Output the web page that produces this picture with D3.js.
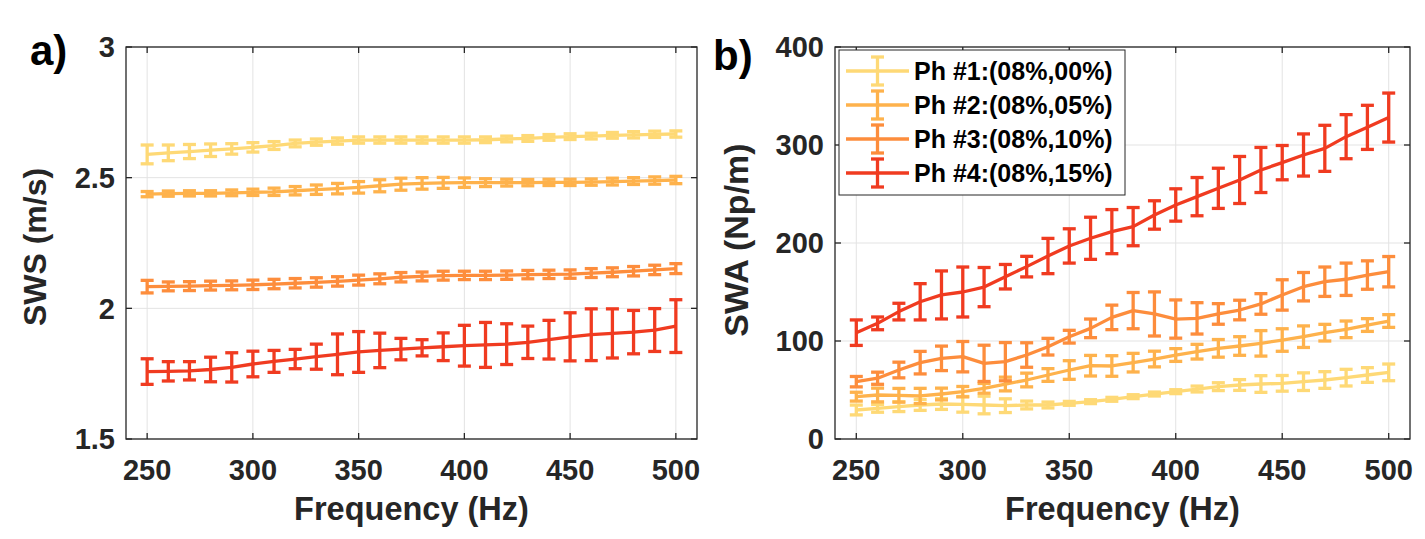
<!DOCTYPE html>
<html>
<head>
<meta charset="utf-8">
<script src="https://cdn.jsdelivr.net/npm/d3@7"></script>
<style>
  body { margin: 0; background: #fff; }
  svg text { font-family: "Liberation Sans", Arial, sans-serif; }
</style>
</head>
<body>
<svg id="chart" width="1425" height="539"></svg>
<script>
// frequencies (Hz)
const freq = [250, 260, 270, 280, 290, 300, 310, 320, 330, 340, 350, 360, 370,
              380, 390, 400, 410, 420, 430, 440, 450, 460, 470, 480, 490, 500];

const seriesNames = ["Ph #1:(08%,00%)", "Ph #2:(08%,05%)", "Ph #3:(08%,10%)", "Ph #4:(08%,15%)"];
const seriesColors = ["#fed976", "#feb24c", "#fd8d3c", "#f03b20"];

// SWS (m/s) mean and error
const sws1 = [2.589, 2.595, 2.600, 2.605, 2.610, 2.616, 2.623, 2.631, 2.636, 2.640, 2.644, 2.644, 2.644,
              2.644, 2.644, 2.644, 2.645, 2.648, 2.650, 2.654, 2.657, 2.659, 2.662, 2.664, 2.666, 2.667];
const sws1Err = [0.036, 0.030, 0.027, 0.024, 0.020, 0.018, 0.015, 0.013, 0.012, 0.012, 0.012, 0.012, 0.012,
                 0.012, 0.012, 0.012, 0.011, 0.011, 0.011, 0.011, 0.011, 0.011, 0.011, 0.012, 0.012, 0.012];
const sws2 = [2.437, 2.439, 2.440, 2.440, 2.442, 2.444, 2.446, 2.450, 2.454, 2.458, 2.463, 2.469, 2.475,
              2.478, 2.480, 2.481, 2.481, 2.481, 2.481, 2.482, 2.482, 2.483, 2.485, 2.487, 2.489, 2.491];
const sws2Err = [0.010, 0.010, 0.010, 0.010, 0.011, 0.012, 0.014, 0.016, 0.018, 0.020, 0.022, 0.023, 0.023,
                 0.022, 0.021, 0.018, 0.015, 0.013, 0.012, 0.012, 0.012, 0.012, 0.013, 0.013, 0.014, 0.014];
const sws3 = [2.083, 2.084, 2.085, 2.087, 2.088, 2.090, 2.093, 2.096, 2.099, 2.103, 2.108, 2.113, 2.119,
              2.122, 2.125, 2.126, 2.126, 2.127, 2.129, 2.130, 2.131, 2.135, 2.138, 2.142, 2.147, 2.152];
const sws3Err = [0.024, 0.017, 0.017, 0.017, 0.017, 0.018, 0.018, 0.018, 0.018, 0.018, 0.019, 0.019, 0.018,
                 0.017, 0.017, 0.016, 0.016, 0.016, 0.016, 0.016, 0.016, 0.017, 0.017, 0.018, 0.018, 0.019];
const sws4 = [1.758, 1.759, 1.761, 1.766, 1.774, 1.787, 1.797, 1.806, 1.815, 1.824, 1.833, 1.839, 1.844,
              1.849, 1.853, 1.857, 1.860, 1.863, 1.870, 1.880, 1.891, 1.899, 1.904, 1.909, 1.917, 1.932];
const sws4Err = [0.049, 0.037, 0.035, 0.047, 0.056, 0.049, 0.042, 0.037, 0.048, 0.078, 0.078, 0.066, 0.041,
                 0.031, 0.053, 0.078, 0.086, 0.078, 0.062, 0.074, 0.092, 0.099, 0.094, 0.083, 0.082, 0.101];

// SWA (Np/m) mean and error
const swa1 = [29.6, 31.3, 33.0, 34.7, 35.7, 35.4, 34.7, 34.0, 34.7, 34.7, 36.4, 38.1, 40.5,
              43.2, 45.9, 48.3, 51.0, 53.4, 55.1, 56.1, 56.8, 58.5, 60.2, 62.6, 65.3, 68.0];
const swa1Err = [5, 4, 5, 5.5, 5.5, 8, 9, 7, 4, 3, 2, 2, 2,
                 2, 2, 2, 3, 4, 5.5, 8.5, 8, 9, 8.5, 8.5, 7.5, 8.5];
const swa2 = [43.2, 44.9, 44.6, 43.9, 45.9, 48.3, 51.7, 56.1, 60.2, 65.3, 70.4, 74.8, 74.5,
              77.9, 81.6, 85.7, 89.1, 92.5, 94.9, 97.6, 101.0, 104.4, 108.5, 111.9, 116.3, 120.4];
const swa2Err = [4.5, 7, 7, 7.8, 6, 5.3, 5, 7, 7, 6.5, 9.5, 10.5, 10.5,
                 9.5, 8, 6.5, 7.5, 9, 9.5, 13, 11.5, 11, 8.5, 8.5, 6.5, 6.5];
const swa3 = [58.5, 62.0, 70.4, 77.9, 82.3, 84.0, 77.2, 78.9, 85.7, 94.2, 104.4, 112.9, 124.1,
              131.0, 127.6, 122.4, 123.1, 127.6, 131.6, 137.8, 147.0, 155.4, 160.5, 163.0, 167.3, 170.7];
const swa3Err = [5.3, 6.2, 8, 11.5, 12.5, 15.5, 18.5, 19.5, 12.5, 8.5, 6.5, 9.5, 12.5,
                 18.5, 22.5, 19.5, 16, 10.5, 10, 10.5, 15.5, 14.5, 15, 16.5, 14.5, 15.5];
const swa4 = [108.5, 118.0, 130.0, 140.0, 147.0, 150.0, 155.0, 165.6, 175.9, 186.7, 197.0, 204.8, 211.6,
              216.7, 228.6, 238.8, 247.3, 255.8, 264.3, 274.5, 282.0, 289.8, 296.6, 308.5, 318.0, 328.0];
const swa4Err = [13, 6.5, 8.5, 18.5, 24.5, 25.5, 20, 12.5, 10.5, 18, 17.5, 21.5, 22.5,
                 19.5, 14.5, 16.5, 19.5, 20.5, 24, 23, 17.5, 21.5, 23.5, 22.5, 22.5, 25];

const xTicks = [250, 300, 350, 400, 450, 500];
const swsTicks = [1.5, 2, 2.5, 3];
const swaTicks = [0, 100, 200, 300, 400];

const svg = d3.select("#chart");
const axisColor = "#262626";

function drawPanel(cfg) {
    const x = d3.scaleLinear().domain([240, 510]).range([cfg.left, cfg.right]);
    const y = d3.scaleLinear().domain(cfg.yDomain).range([cfg.bottom, cfg.top]);
    const g = svg.append("g");

    // grid
    g.selectAll(".gx").data(xTicks).enter().append("line")
        .attr("x1", d => x(d)).attr("x2", d => x(d))
        .attr("y1", cfg.top).attr("y2", cfg.bottom)
        .attr("stroke", "#e3e3e3").attr("stroke-width", 1);
    g.selectAll(".gy").data(cfg.yTicks).enter().append("line")
        .attr("x1", cfg.left).attr("x2", cfg.right)
        .attr("y1", d => y(d)).attr("y2", d => y(d))
        .attr("stroke", "#e3e3e3").attr("stroke-width", 1);

    // series
    cfg.series.forEach((s, k) => {
        const pts = freq.map((f, i) => ({ f: f, v: s.values[i], e: s.err[i] }));
        const sg = g.append("g").attr("stroke", seriesColors[k]).attr("fill", "none");
        sg.append("path")
            .datum(pts)
            .attr("stroke-width", 3.3)
            .attr("stroke-linejoin", "round")
            .attr("d", d3.line().x(d => x(d.f)).y(d => y(d.v)));
        const bars = sg.selectAll(".eb").data(pts).enter().append("g");
        bars.append("line")
            .attr("x1", d => x(d.f)).attr("x2", d => x(d.f))
            .attr("y1", d => y(d.v - d.e)).attr("y2", d => y(d.v + d.e))
            .attr("stroke-width", 3.3);
        [-1, 1].forEach(sign => {
            bars.append("line")
                .attr("x1", d => x(d.f) - 6.5).attr("x2", d => x(d.f) + 6.5)
                .attr("y1", d => y(d.v + sign * d.e)).attr("y2", d => y(d.v + sign * d.e))
                .attr("stroke-width", 3.3);
        });
    });

    // box
    g.append("rect")
        .attr("x", cfg.left).attr("y", cfg.top)
        .attr("width", cfg.right - cfg.left).attr("height", cfg.bottom - cfg.top)
        .attr("fill", "none").attr("stroke", axisColor).attr("stroke-width", 1.3);

    // inner ticks on all four sides
    g.selectAll(".tb").data(xTicks).enter().append("line")
        .attr("x1", d => x(d)).attr("x2", d => x(d))
        .attr("y1", cfg.bottom).attr("y2", cfg.bottom - 6)
        .attr("stroke", axisColor).attr("stroke-width", 1.3);
    g.selectAll(".tt").data(xTicks).enter().append("line")
        .attr("x1", d => x(d)).attr("x2", d => x(d))
        .attr("y1", cfg.top).attr("y2", cfg.top + 6)
        .attr("stroke", axisColor).attr("stroke-width", 1.3);
    g.selectAll(".tl").data(cfg.yTicks).enter().append("line")
        .attr("x1", cfg.left).attr("x2", cfg.left + 6)
        .attr("y1", d => y(d)).attr("y2", d => y(d))
        .attr("stroke", axisColor).attr("stroke-width", 1.3);
    g.selectAll(".tr").data(cfg.yTicks).enter().append("line")
        .attr("x1", cfg.right).attr("x2", cfg.right - 6)
        .attr("y1", d => y(d)).attr("y2", d => y(d))
        .attr("stroke", axisColor).attr("stroke-width", 1.3);

    // tick labels
    g.selectAll(".xl").data(xTicks).enter().append("text")
        .attr("x", d => x(d)).attr("y", cfg.bottom + 41)
        .attr("text-anchor", "middle")
        .attr("font-size", "29px").attr("font-weight", "bold")
        .attr("fill", axisColor)
        .text(d => d);
    g.selectAll(".yl").data(cfg.yTicks).enter().append("text")
        .attr("x", cfg.left - 11).attr("y", d => y(d))
        .attr("dy", "0.36em")
        .attr("text-anchor", "end")
        .attr("font-size", "29px").attr("font-weight", "bold")
        .attr("fill", axisColor)
        .text(d => d);

    // axis titles
    g.append("text")
        .attr("x", (cfg.left + cfg.right) / 2).attr("y", 520)
        .attr("text-anchor", "middle")
        .attr("font-size", "32.5px").attr("font-weight", "bold")
        .attr("fill", axisColor)
        .text("Frequency (Hz)");
    g.append("text")
        .attr("transform", `translate(${cfg.yLabelX},${cfg.yLabelY}) rotate(-90)`)
        .attr("text-anchor", "middle")
        .attr("font-size", cfg.yLabelSize).attr("font-weight", "bold")
        .attr("fill", axisColor)
        .text(cfg.yLabel);

    // panel letter
    g.append("text")
        .attr("x", cfg.letterX).attr("y", cfg.letterY)
        .attr("font-family", "'Open Sans', sans-serif")
        .attr("font-size", "42px").attr("font-weight", "bold")
        .attr("fill", "#000")
        .text(cfg.letter);

    return { x, y, g };
}

drawPanel({
    left: 126, right: 697, top: 47, bottom: 439,
    yDomain: [1.5, 3], yTicks: swsTicks,
    yLabel: "SWS (m/s)", yLabelX: 46, yLabelY: 247, yLabelSize: "32px",
    letter: "a)", letterX: 30, letterY: 65,
    series: [
        { values: sws1, err: sws1Err },
        { values: sws2, err: sws2Err },
        { values: sws3, err: sws3Err },
        { values: sws4, err: sws4Err }
    ]
});

drawPanel({
    left: 835, right: 1410, top: 47, bottom: 439,
    yDomain: [0, 400], yTicks: swaTicks,
    yLabel: "SWA (Np/m)", yLabelX: 748, yLabelY: 240, yLabelSize: "34px",
    letter: "b)", letterX: 713, letterY: 70,
    series: [
        { values: swa1, err: swa1Err },
        { values: swa2, err: swa2Err },
        { values: swa3, err: swa3Err },
        { values: swa4, err: swa4Err }
    ]
});

// legend (panel b)
const legend = svg.append("g");
legend.append("rect")
    .attr("x", 839).attr("y", 50).attr("width", 286).attr("height", 145)
    .attr("fill", "#fff").attr("stroke", axisColor).attr("stroke-width", 1);
const legendY = d3.scaleLinear().domain([0, 3]).range([71, 173]);
seriesNames.forEach((name, k) => {
    const cy = legendY(k);
    const item = legend.append("g").attr("stroke", seriesColors[k]).attr("stroke-width", 3.3);
    item.append("line").attr("x1", 846).attr("x2", 909).attr("y1", cy).attr("y2", cy);
    item.append("line").attr("x1", 877.5).attr("x2", 877.5).attr("y1", cy - 14).attr("y2", cy + 14);
    item.append("line").attr("x1", 871).attr("x2", 884).attr("y1", cy - 14).attr("y2", cy - 14);
    item.append("line").attr("x1", 871).attr("x2", 884).attr("y1", cy + 14).attr("y2", cy + 14);
    legend.append("text")
        .attr("x", 914).attr("y", cy).attr("dy", "0.36em")
        .attr("font-size", "25px").attr("font-weight", "bold")
        .attr("fill", "#000")
        .text(name);
});
</script>
</body>
</html>
